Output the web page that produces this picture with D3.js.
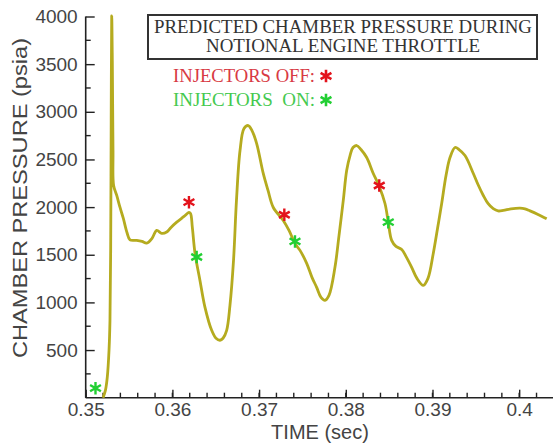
<!DOCTYPE html>
<html>
<head>
<meta charset="utf-8">
<script src="https://cdn.jsdelivr.net/npm/d3@7"></script>
<style>
  body { margin: 0; background: #fff; }
  svg { display: block; }
</style>
</head>
<body>
<div id="chart"></div>
<script>
// ---- data ----
var times = [0.35200, 0.35228, 0.35249, 0.35269, 0.35280, 0.35288, 0.35294, 0.35300, 0.35307, 0.35315,
  0.35322, 0.35358, 0.35396, 0.35434, 0.35476, 0.35511, 0.35588, 0.35649, 0.35704, 0.35765,
  0.35819, 0.35877, 0.35934, 0.35984, 0.36050, 0.36134, 0.36191, 0.36209, 0.36230, 0.36261,
  0.36318, 0.36376, 0.36453, 0.36503, 0.36549, 0.36584, 0.36626, 0.36664, 0.36705, 0.36739,
  0.36780, 0.36826, 0.36875, 0.36918, 0.36972, 0.37048, 0.37103, 0.37164, 0.37279, 0.37345,
  0.37414, 0.37472, 0.37549, 0.37610, 0.37664, 0.37714, 0.37760, 0.37806, 0.37875, 0.37922,
  0.37971, 0.38010, 0.38049, 0.38083, 0.38126, 0.38175, 0.38241, 0.38317, 0.38386, 0.38452,
  0.38490, 0.38529, 0.38579, 0.38645, 0.38694, 0.38760, 0.38821, 0.38894, 0.38948, 0.39009,
  0.39058, 0.39106, 0.39156, 0.39202, 0.39260, 0.39306, 0.39375, 0.39471, 0.39525, 0.39586,
  0.39640, 0.39701, 0.39756, 0.39817, 0.39905, 0.40009, 0.40067, 0.40125, 0.40217, 0.40317];

var pressure = [0, 79, 215, 498, 812, 1546, 2908, 4005, 3537, 2594,
  2227, 2122, 1996, 1881, 1734, 1656, 1651, 1640, 1622, 1672,
  1755, 1724, 1738, 1787, 1842, 1902, 1944, 1934, 1787, 1514,
  1231, 948, 707, 624, 603, 624, 707, 969, 1441, 2070,
  2594, 2824, 2856, 2803, 2667, 2353, 2175, 1996, 1860, 1755,
  1619, 1546, 1410, 1263, 1158, 1053, 1022, 1074, 1368, 1703,
  2070, 2384, 2541, 2625, 2646, 2604, 2520, 2353, 2217, 2038,
  1842, 1651, 1588, 1556, 1483, 1368, 1252, 1179, 1252, 1514,
  1776, 2038, 2332, 2520, 2625, 2604, 2541, 2353, 2237, 2122,
  2038, 1983, 1960, 1965, 1981, 1989, 1981, 1960, 1923, 1878];

// injector events
var offTimes = [0.36191, 0.37291, 0.38386];
var offPressure = [2052, 1920, 2227];
var onTimes = [0.35113, 0.36280, 0.37414, 0.38490];
var onPressure = [100, 1476, 1640, 1842];

var xTicks = [0.35, 0.36, 0.37, 0.38, 0.39, 0.40];
var xTickLabels = ["0.35", "0.36", "0.37", "0.38", "0.39", "0.4"];
var yTicks = [500, 1000, 1500, 2000, 2500, 3000, 3500, 4000];

var titleLines = ["PREDICTED CHAMBER PRESSURE DURING", "NOTIONAL ENGINE THROTTLE"];

// ---- sizes ----
var W = 553, H = 446;
var curveColor = "#b5ab1f";
var redColor = "#e3131c", greenColor = "#22cf33";

var svg = d3.select("#chart")
  .append("svg")
  .attr("width", W)
  .attr("height", H);

var x = d3.scaleLinear()
  .domain([0.35, 0.4039])
  .range([85.7, 553]);

var y = d3.scaleLinear()
  .domain([0, 4000])
  .range([397.7, 16.5]);

// ---- axes (ticks point inward, like the original) ----
var xAxis = svg.append("g")
  .attr("transform", "translate(0," + y(0) + ")")
  .call(d3.axisBottom(x)
    .tickValues(xTicks)
    .tickSize(-8)
    .tickPadding(5)
    .tickFormat(function (d, i) { return xTickLabels[i]; }));

// minor x ticks
xAxis.selectAll(".minor")
  .data(d3.range(0, 27).map(function (i) { return 0.35 + i * 0.002; }))
  .enter().append("line")
  .attr("class", "minor")
  .attr("x1", function (d) { return x(d); })
  .attr("x2", function (d) { return x(d); })
  .attr("y1", 0)
  .attr("y2", -5);

var yAxis = svg.append("g")
  .attr("transform", "translate(" + x(0.35) + ",0)")
  .call(d3.axisLeft(y)
    .tickValues(yTicks)
    .tickSize(-9)
    .tickPadding(8)
    .tickFormat(d3.format("d")));

// minor y ticks every 250
yAxis.selectAll(".minor")
  .data(d3.range(1, 16, 2).map(function (i) { return i * 250; }))
  .enter().append("line")
  .attr("class", "minor")
  .attr("x1", 0)
  .attr("x2", 5)
  .attr("y1", function (d) { return y(d); })
  .attr("y2", function (d) { return y(d); });

svg.selectAll(".domain")
  .attr("stroke", "#222")
  .attr("stroke-width", 1.6);
svg.selectAll(".tick line, .minor")
  .attr("stroke", "#222")
  .attr("stroke-width", 1.4);
svg.selectAll(".tick text")
  .attr("fill", "#444")
  .style("font-family", "'Liberation Sans', Arial, sans-serif")
  .style("font-size", "19px");
yAxis.select(".domain").attr("d", "M0," + y(0) + "V" + y(4000));
xAxis.select(".domain").attr("d", "M" + x(0.35) + ",0H" + W);

// axis titles
svg.append("text")
  .attr("x", 320)
  .attr("y", 439)
  .attr("text-anchor", "middle")
  .attr("fill", "#444")
  .style("font-family", "'Liberation Sans', Arial, sans-serif")
  .style("font-size", "20px")
  .text("TIME (sec)");

svg.append("text")
  .attr("transform", "translate(27,198) rotate(-90)")
  .attr("text-anchor", "middle")
  .attr("fill", "#444")
  .attr("textLength", 320)
  .attr("lengthAdjust", "spacingAndGlyphs")
  .style("font-family", "'Liberation Sans', Arial, sans-serif")
  .style("font-size", "20px")
  .text("CHAMBER PRESSURE (psia)");

// ---- pressure trace ----
var line = d3.line()
  .x(function (d, i) { return x(times[i]); })
  .y(function (d) { return y(d); })
  .curve(d3.curveCatmullRom.alpha(0.5));

svg.append("path")
  .datum(pressure)
  .attr("fill", "none")
  .attr("stroke", curveColor)
  .attr("stroke-width", 2.8)
  .attr("stroke-linejoin", "round")
  .attr("d", line);

// ---- asterisk markers ----
var star = d3.symbol().type(d3.symbolAsterisk).size(110);

svg.selectAll("offstar")
  .data(offPressure)
  .enter().append("path")
  .attr("transform", function (d, i) { return "translate(" + x(offTimes[i]) + "," + y(d) + ")"; })
  .attr("d", star)
  .attr("fill", "none")
  .attr("stroke", redColor)
  .attr("stroke-width", 2.4);

svg.selectAll("onstar")
  .data(onPressure)
  .enter().append("path")
  .attr("transform", function (d, i) { return "translate(" + x(onTimes[i]) + "," + y(d) + ")"; })
  .attr("d", star)
  .attr("fill", "none")
  .attr("stroke", greenColor)
  .attr("stroke-width", 2.4);

// ---- title box ----
svg.append("rect")
  .attr("x", 148)
  .attr("y", 15)
  .attr("width", 389)
  .attr("height", 44)
  .attr("fill", "#fff")
  .attr("stroke", "#333")
  .attr("stroke-width", 2);

svg.selectAll("titleline")
  .data(titleLines)
  .enter().append("text")
  .attr("x", 343)
  .attr("y", function (d, i) { return 33 + i * 19; })
  .attr("text-anchor", "middle")
  .attr("fill", "#333")
  .attr("textLength", function (d, i) { return i == 0 ? 378 : 274; })
  .attr("lengthAdjust", "spacingAndGlyphs")
  .style("font-family", "'Liberation Serif', 'DejaVu Serif', serif")
  .style("font-size", "19px")
  .text(function (d) { return d; });

// ---- legend ----
var legend = [
  { label: "INJECTORS OFF:", color: "#d83a44", star: redColor, y: 82 },
  { label: "INJECTORS  ON:", color: "#45c94f", star: greenColor, y: 106 }
];

svg.selectAll("legtext")
  .data(legend)
  .enter().append("text")
  .attr("x", 173)
  .attr("y", function (d) { return d.y; })
  .attr("fill", function (d) { return d.color; })
  .attr("textLength", 142)
  .attr("lengthAdjust", "spacingAndGlyphs")
  .style("font-family", "'Liberation Serif', 'DejaVu Serif', serif")
  .style("font-size", "18px")
  .style("white-space", "pre")
  .text(function (d) { return d.label; });

svg.selectAll("legstar")
  .data(legend)
  .enter().append("path")
  .attr("transform", function (d) { return "translate(326," + (d.y - 6) + ")"; })
  .attr("d", star)
  .attr("fill", "none")
  .attr("stroke", function (d) { return d.star; })
  .attr("stroke-width", 2.6);
</script>
</body>
</html>
